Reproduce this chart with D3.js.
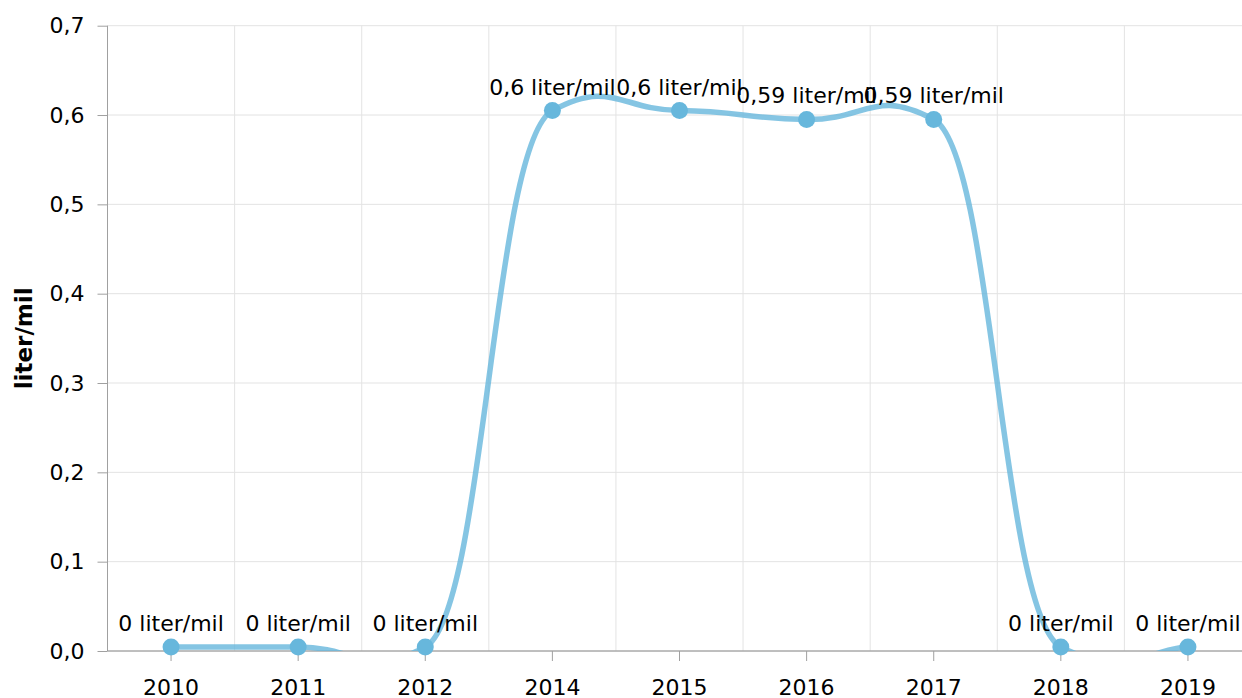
<!DOCTYPE html>
<html><head><meta charset="utf-8">
<script src="https://cdn.jsdelivr.net/npm/d3@7"></script>
<style>body{margin:0;background:#fff} svg{display:block;font-family:"DejaVu Sans",Verdana,sans-serif}</style>
</head><body><svg id="c" width="1242" height="698"></svg>
<script>
const categories = ["2010","2011","2012","2014","2015","2016","2017","2018","2019"];
const values = [0.0045,0.0045,0.0045,0.605,0.605,0.595,0.595,0.0045,0.0045];
const yTicks = [0,0.1,0.2,0.3,0.4,0.5,0.6,0.7];
const unit = "liter/mil";
const yTitle = "liter/mil";

(function(){
const pL=107.5, pR=1251.5, pT=25.7, pB=651;
const svg = d3.select("#c");
const x = d3.scaleBand().domain(categories).range([pL,pR]);
const y = d3.scaleLinear().domain([0,0.7]).range([pB,pT]);
const locale = d3.formatLocale({decimal:",",thousands:" ",grouping:[3],currency:["",""]});
const fTick = locale.format(".1f");
const fVal = locale.format(".2~f");
const cx = c => x(c) + x.bandwidth()/2;
const FS = "22px";

// grid
const g = svg.append("g");
g.selectAll("line.h").data(yTicks).join("line")
  .attr("x1",pL).attr("x2",pR).attr("y1",d=>y(d)).attr("y2",d=>y(d))
  .attr("stroke","#e3e3e3").attr("stroke-width",1);
g.selectAll("line.v").data(categories.slice(1)).join("line")
  .attr("x1",d=>x(d)).attr("x2",d=>x(d)).attr("y1",pT).attr("y2",pB)
  .attr("stroke","#e3e3e3").attr("stroke-width",1);

// y axis
const yAxis = d3.axisLeft(y).tickValues(yTicks).tickFormat(fTick).tickSize(10).tickPadding(13);
const ya = svg.append("g").attr("transform",`translate(${pL},0)`).call(yAxis);
ya.select(".domain").attr("stroke","#a0a0a0").attr("d",`M0,${pT}V${pB}`);
ya.selectAll(".tick line").attr("stroke","#a0a0a0");
ya.selectAll("text").attr("font-size",FS).attr("fill","#000").attr("font-family","DejaVu Sans");

// x axis
const xAxis = d3.axisBottom(x).tickSize(10).tickPadding(18);
const xa = svg.append("g").attr("transform",`translate(0,${pB})`).call(xAxis);
xa.select(".domain").attr("stroke","#8c8c8c").attr("d",`M${pL},0H${pR}`);
xa.selectAll(".tick line").attr("stroke","#a0a0a0");
xa.selectAll("text").attr("font-size",FS).attr("fill","#000").attr("font-family","DejaVu Sans");

// title
svg.append("text").attr("transform",`translate(32,${(pT+pB)/2}) rotate(-90)`)
  .attr("text-anchor","middle").attr("font-weight","bold").attr("font-size","23px").text(yTitle);

// smoothed line (tension-based cubic)
const pts = categories.map((c,i)=>[cx(c), y(values[i])]);
const tX = 1 - 0.765, tY = 1 - 0.94;
const p = d3.path();
p.moveTo(pts[0][0],pts[0][1]);
for (let i=0;i<pts.length-1;i++){
  const p0 = pts[Math.max(i-1,0)], p1 = pts[i], p2 = pts[i+1], p3 = pts[Math.min(i+2,pts.length-1)];
  const ax = p1[0] + tX*(p2[0]-p0[0]), ay = p1[1] + tY*(p2[1]-p0[1]);
  const bx = p2[0] - tX*(p3[0]-p1[0]), by = p2[1] - tY*(p3[1]-p1[1]);
  p.bezierCurveTo(ax,ay,bx,by,p2[0],p2[1]);
}
svg.append("clipPath").attr("id","clip").append("rect")
  .attr("x",pL).attr("y",pT-40).attr("width",pR-pL).attr("height",pB-pT+40);
svg.append("path").attr("d",p.toString()).attr("fill","none")
  .attr("stroke","#67b7dc").attr("stroke-opacity",0.8).attr("stroke-width",5.5)
  .attr("clip-path","url(#clip)");

// markers
svg.selectAll("circle.m").data(categories).join("circle")
  .attr("cx",d=>cx(d)).attr("cy",(d,i)=>y(values[i])).attr("r",8.5).attr("fill","#67b7dc");

// labels
svg.selectAll("text.lbl").data(categories).join("text")
  .attr("x",d=>cx(d)).attr("y",(d,i)=>y(values[i])-16)
  .attr("text-anchor","middle").attr("font-size",FS).attr("fill","#000")
  .text((d,i)=>fVal(values[i])+" "+unit);
})();
</script></body></html>
